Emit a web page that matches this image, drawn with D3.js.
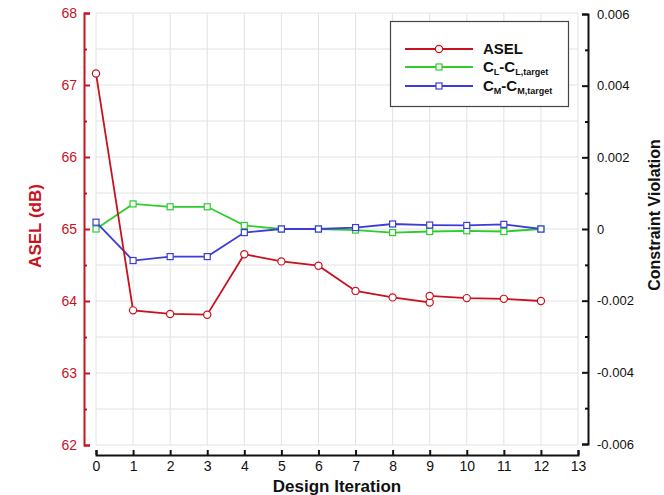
<!DOCTYPE html>
<html>
<head>
<meta charset="utf-8">
<script src="https://cdn.jsdelivr.net/npm/d3@7"></script>
<style>
  body { margin: 0; background: #fff; }
  svg { display: block; font-family: "Liberation Sans", Arial, Helvetica, sans-serif; }
</style>
</head>
<body>
<svg id="chart" width="664" height="495"></svg>
<script>
// ---- data ----
const aselIter = [0, 1, 2, 3, 4, 5, 6, 7, 8, 9, 9, 10, 11, 12];
const aselValues = [67.16, 63.87, 63.82, 63.81, 64.65, 64.55, 64.49, 64.14, 64.05, 63.98, 64.07, 64.04, 64.03, 64.00];
const constraintIter = [0, 1, 2, 3, 4, 5, 6, 7, 8, 9, 10, 11, 12];
const clValues = [0.0, 0.0007, 0.00062, 0.00062, 0.0001, 0.0, 0.0, -0.00003, -0.0001, -0.00007, -0.00005, -0.00007, 0.0];
const cmValues = [0.00019, -0.00088, -0.00077, -0.00077, -0.0001, 0.0, 0.0, 0.00004, 0.00014, 0.00011, 0.0001, 0.00013, 0.0];
const xTicks = [0, 1, 2, 3, 4, 5, 6, 7, 8, 9, 10, 11, 12, 13];
const leftTicks = [62, 63, 64, 65, 66, 67, 68];
const rightTicks = [-0.006, -0.004, -0.002, 0, 0.002, 0.004, 0.006];

// ---- layout ----
const svg = d3.select("#chart");
const pLeft = 96, pRight = 578, pTop = 13, pBottom = 445;
const x = d3.scaleLinear().domain([0, 13]).range([pLeft, pRight]);
const yL = d3.scaleLinear().domain([62, 68]).range([pBottom, pTop]);
const yR = d3.scaleLinear().domain([-0.006, 0.006]).range([pBottom - 1, pTop + 1]);

const RED = "#c8121e", GREEN = "#2ecc2e", BLUE = "#3c3cd8";

// grid
const grid = svg.append("g").attr("stroke", "#e2e2e2").attr("stroke-width", 1);
grid.selectAll("line.v").data(xTicks).join("line").attr("class", "v")
  .attr("x1", d => x(d)).attr("x2", d => x(d)).attr("y1", pTop).attr("y2", pBottom);
grid.selectAll("line.h").data(d3.range(62, 68.01, 0.5)).join("line").attr("class", "h")
  .attr("x1", pLeft).attr("x2", pRight).attr("y1", d => yL(d)).attr("y2", d => yL(d));

// left axis
const axL = svg.append("g").attr("transform", "translate(84,0)")
  .call(d3.axisLeft(yL).tickValues(leftTicks).tickSize(-6).tickSizeOuter(-6).tickPadding(7).tickFormat(d3.format("d")));
const axLm = svg.append("g").attr("transform", "translate(84,0)")
  .call(d3.axisLeft(yL).tickValues(d3.range(62.5, 68, 1)).tickSize(-3).tickSizeOuter(0).tickFormat(""));
axLm.select(".domain").remove();
axL.selectAll("path,line").attr("stroke", RED).attr("stroke-width", 2);
axLm.selectAll("line").attr("stroke", RED).attr("stroke-width", 2);
axL.selectAll("text").attr("fill", RED).attr("font-size", 14).attr("font-family", null);
axL.attr("font-family", null); axLm.attr("font-family", null);

// right axis
const fmtR = d => d === 0 ? "0" : d3.format(".3f")(d).replace("\u2212", "-");
const axR = svg.append("g").attr("transform", "translate(588,0)")
  .call(d3.axisRight(yR).tickValues(rightTicks).tickSize(-6).tickSizeOuter(-6).tickPadding(9).tickFormat(fmtR));
const axRm = svg.append("g").attr("transform", "translate(588,0)")
  .call(d3.axisRight(yR).tickValues([-0.005, -0.003, -0.001, 0.001, 0.003, 0.005]).tickSize(-3).tickSizeOuter(0).tickFormat(""));
axRm.select(".domain").remove();
axR.selectAll("path,line").attr("stroke", "#111").attr("stroke-width", 2);
axRm.selectAll("line").attr("stroke", "#111").attr("stroke-width", 2);
axR.selectAll("text").attr("fill", "#111").attr("font-size", 13);
axR.attr("font-family", null);

// bottom axis
const axB = svg.append("g").attr("transform", "translate(0,455)")
  .call(d3.axisBottom(x).tickValues(xTicks).tickSize(-5).tickSizeOuter(-5).tickPadding(6).tickFormat(d3.format("d")));
axB.selectAll("path,line").attr("stroke", "#111").attr("stroke-width", 2);
axB.selectAll("text").attr("fill", "#111").attr("font-size", 14);
axB.attr("font-family", null);

// titles
svg.append("text").attr("transform", "translate(41,226) rotate(-90)")
  .attr("text-anchor", "middle").attr("font-weight", "bold").attr("font-size", 17).attr("fill", RED)
  .text("ASEL (dB)");
svg.append("text").attr("transform", "translate(660,215) rotate(-90)")
  .attr("text-anchor", "middle").attr("font-weight", "bold").attr("font-size", 16).attr("fill", "#111")
  .text("Constraint Violation");
svg.append("text").attr("x", 337).attr("y", 492)
  .attr("text-anchor", "middle").attr("font-weight", "bold").attr("font-size", 17).attr("fill", "#111")
  .text("Design Iteration");

// series
const aselData = aselIter.map((d, i) => [d, aselValues[i]]);
const clData = constraintIter.map((d, i) => [d, clValues[i]]);
const cmData = constraintIter.map((d, i) => [d, cmValues[i]]);

const lineL = d3.line().x(d => x(d[0])).y(d => yL(d[1]));
const lineR = d3.line().x(d => x(d[0])).y(d => yR(d[1]));

function drawSquares(data, color) {
  svg.append("g").selectAll("rect").data(data).join("rect")
    .attr("x", d => x(d[0]) - 3).attr("y", d => yR(d[1]) - 3)
    .attr("width", 6).attr("height", 6)
    .attr("fill", "#fff").attr("stroke", color).attr("stroke-width", 1.2);
}
svg.append("path").datum(clData).attr("d", lineR).attr("fill", "none").attr("stroke", GREEN).attr("stroke-width", 1.8);
drawSquares(clData, GREEN);
svg.append("path").datum(cmData).attr("d", lineR).attr("fill", "none").attr("stroke", BLUE).attr("stroke-width", 1.8);
drawSquares(cmData, BLUE);

svg.append("path").datum(aselData).attr("d", lineL).attr("fill", "none").attr("stroke", RED).attr("stroke-width", 1.8);
svg.append("g").selectAll("circle").data(aselData).join("circle")
  .attr("cx", d => x(d[0])).attr("cy", d => yL(d[1])).attr("r", 3.6)
  .attr("fill", "#fff").attr("stroke", RED).attr("stroke-width", 1.2);

// legend
const lg = svg.append("g");
lg.append("rect").attr("x", 390.5).attr("y", 21.5).attr("width", 178).attr("height", 85)
  .attr("fill", "#fff").attr("stroke", "#444").attr("stroke-width", 1.2);
const legendItems = [
  { color: RED, marker: "circle", y: 49 },
  { color: GREEN, marker: "square", y: 67 },
  { color: BLUE, marker: "square", y: 86 }
];
legendItems.forEach(it => {
  lg.append("line").attr("x1", 405).attr("x2", 473).attr("y1", it.y).attr("y2", it.y)
    .attr("stroke", it.color).attr("stroke-width", 1.8);
  if (it.marker === "circle") {
    lg.append("circle").attr("cx", 439).attr("cy", it.y).attr("r", 3.6)
      .attr("fill", "#fff").attr("stroke", it.color).attr("stroke-width", 1.2);
  } else {
    lg.append("rect").attr("x", 436).attr("y", it.y - 3).attr("width", 6).attr("height", 6)
      .attr("fill", "#fff").attr("stroke", it.color).attr("stroke-width", 1.2);
  }
});
lg.append("text").attr("x", 483).attr("y", 54).attr("font-weight", "bold").attr("font-size", 15).attr("fill", "#111").text("ASEL");
function subLabel(y, sa, sb) {
  const t = lg.append("text").attr("x", 483).attr("y", y).attr("font-weight", "bold").attr("font-size", 15).attr("fill", "#111");
  t.append("tspan").text("C");
  t.append("tspan").attr("font-size", 9).attr("dy", 3).text(sa);
  t.append("tspan").attr("dy", -3).text("-C");
  t.append("tspan").attr("font-size", 9).attr("dy", 3).text(sb);
}
subLabel(72, "L", "L,target");
subLabel(91, "M", "M,target");
</script>
</body>
</html>
